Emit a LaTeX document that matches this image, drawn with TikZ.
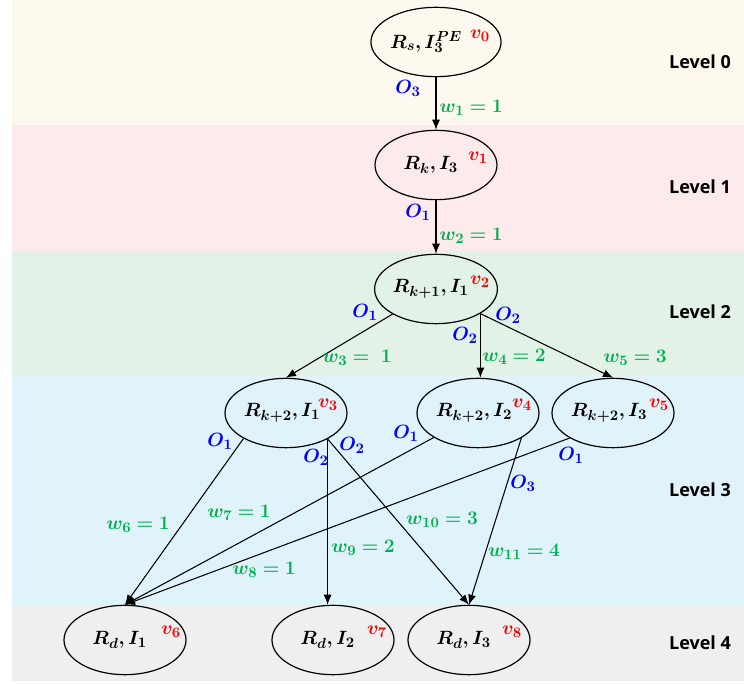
\documentclass[tikz,border=0pt]{standalone}
\usepackage{bm}
\usepackage{fontspec}
\setsansfont{Open Sans}
\usetikzlibrary{arrows.meta,shapes.geometric}
\definecolor{bgzero}{HTML}{FEF9EE}
\definecolor{bgone}{HTML}{FDEBEB}
\definecolor{bgtwo}{HTML}{E3F2E6}
\definecolor{bgthree}{HTML}{E1F3FA}
\definecolor{bgfour}{HTML}{EFEFEF}
\definecolor{ored}{HTML}{FF0000}
\definecolor{oblue}{HTML}{0000FF}
\definecolor{ogreen}{HTML}{00B050}
\begin{document}
\begin{tikzpicture}[x=0.75pt,y=-0.75pt,
  mfont/.style={font=\fontsize{15}{18}\selectfont},
  st/.style={ellipse,draw,line width=0.9pt,minimum width=91.5pt,minimum height=52pt,inner sep=0pt,mfont},
  vl/.style={text=ored,inner sep=0pt,mfont},
  ol/.style={text=oblue,inner sep=0pt,mfont},
  wl/.style={text=ogreen,inner sep=0pt,mfont},
  lv/.style={font=\sffamily\bfseries\fontsize{13.5}{16}\selectfont,inner sep=0pt},
  ar/.style={line width=0.8pt,-{Latex[length=7.5pt,width=6pt]}}]
\useasboundingbox (0,0) rectangle (744,684);
% bands
\fill[bgzero] (12,0) rectangle (744,125);
\fill[bgone] (12,125) rectangle (744,251);
\fill[bgtwo] (12,251) rectangle (744,375);
\fill[bgthree] (12,375) rectangle (744,605);
\fill[bgfour] (12,605) rectangle (744,681);
% level labels
\node[lv] (L0) at (700,62) {Level 0};
\node[lv] (L1) at (700,187) {Level 1};
\node[lv] (L2) at (700,312) {Level 2};
\node[lv] (L3) at (700,490) {Level 3};
\node[lv] (L4) at (700,643) {Level 4};
% nodes
\node[st] (v0) at (436,42) {$\bm{R_s, I_3^{PE}}$\kern15pt};
\node[st] (v1) at (436,165) {$\bm{R_k, I_3}$\kern8pt};
\node[st] (v2) at (436,289) {$\bm{R_{k+1}, I_1}$\kern8pt};
\node[st] (v3) at (286,413) {$\bm{R_{k+2}, I_1}$\kern6pt};
\node[st] (v4) at (478,413) {$\bm{R_{k+2}, I_2}$\kern6pt};
\node[st] (v5) at (613,413) {$\bm{R_{k+2}, I_3}$\kern6pt};
\node[st] (v6) at (125,640) {$\bm{R_d, I_1}$\kern8pt};
\node[st] (v7) at (333,640) {$\bm{R_d, I_2}$\kern8pt};
\node[st] (v8) at (469,640) {$\bm{R_d, I_3}$\kern8pt};
% vertex labels
\node[vl] (n0) at ([shift={(44,-6)}]v0.center) {$\bm{v_0}$};
\node[vl] (n1) at ([shift={(42,-7)}]v1.center) {$\bm{v_1}$};
\node[vl] (n2) at ([shift={(44,-7)}]v2.center) {$\bm{v_2}$};
\node[vl] (n3) at ([shift={(42,-8)}]v3.center) {$\bm{v_3}$};
\node[vl] (n4) at ([shift={(44,-8)}]v4.center) {$\bm{v_4}$};
\node[vl] (n5) at ([shift={(46,-8)}]v5.center) {$\bm{v_5}$};
\node[vl] (n6) at ([shift={(46,-8)}]v6.center) {$\bm{v_6}$};
\node[vl] (n7) at ([shift={(44,-8)}]v7.center) {$\bm{v_7}$};
\node[vl] (n8) at ([shift={(43,-8)}]v8.center) {$\bm{v_8}$};
% edges
\draw[ar] (v0) -- (v1);
\draw[ar] (v1) -- (v2);
\draw[ar] (v2.210) -- (v3.north);
\draw[ar] (v2.331) -- (v2.331 |- v4.north);
\draw[ar] (v2.331) -- (v5.north);
\draw[ar] (v3.211) -- (v6.north);
\draw[ar] (v3.328) -- (v3.328 |- v7.north);
\draw[ar] (v3.328) -- (v8.north);
\draw[ar] (v4.209) -- (v6.north);
\draw[ar] (v4.330) -- (v8.north);
\draw[ar] (v5.210) -- (v6.north);
% output labels
\node[ol] (o01) at (408,88) {$\bm{O_3}$};
\node[ol] (o12) at (418,212) {$\bm{O_1}$};
\node[ol] (o23) at (365,312) {$\bm{O_1}$};
\node[ol] (o24) at (465,335) {$\bm{O_2}$};
\node[ol] (o25) at (508,315) {$\bm{O_2}$};
\node[ol] (o36) at (220,441) {$\bm{O_1}$};
\node[ol] (o37) at (316,457) {$\bm{O_2}$};
\node[ol] (o38) at (352,445) {$\bm{O_2}$};
\node[ol] (o46) at (406,433) {$\bm{O_1}$};
\node[ol] (o56) at (571,455) {$\bm{O_1}$};
\node[ol] (o48) at (523,483) {$\bm{O_3}$};
% weights
\node[wl] (w1) at (471,108) {$\bm{w_1 = 1}$};
\node[wl] (w2) at (471,236) {$\bm{w_2 = 1}$};
\node[wl] (w3) at (357,358) {$\bm{w_3 =\ 1}$};
\node[wl] (w4) at (514,357) {$\bm{w_4 = 2}$};
\node[wl] (w5) at (635,358) {$\bm{w_5 = 3}$};
\node[wl] (w6) at (138,525) {$\bm{w_6 = 1}$};
\node[wl] (w7) at (239,513) {$\bm{w_7 = 1}$};
\node[wl] (w8) at (264,570) {$\bm{w_8 = 1}$};
\node[wl] (w9) at (363,548) {$\bm{w_9 = 2}$};
\node[wl] (w10) at (442,520) {$\bm{w_{10} = 3}$};
\node[wl] (w11) at (524,552) {$\bm{w_{11} = 4}$};
\end{tikzpicture}
\end{document}
